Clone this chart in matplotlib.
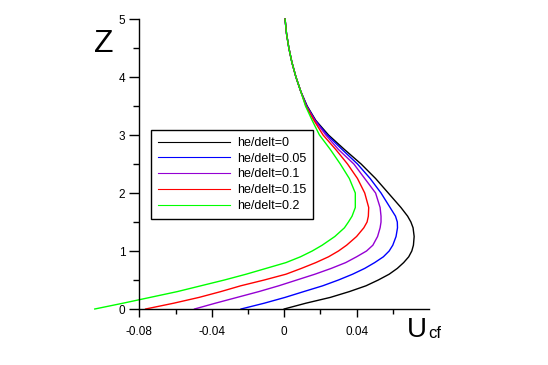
import matplotlib
matplotlib.use("Agg")
import matplotlib.pyplot as plt
from matplotlib.ticker import FixedLocator, FixedFormatter

plt.rcParams['font.family'] = ['Liberation Sans', 'DejaVu Sans']

# ---- data ----
labels = ["he/delt=0", "he/delt=0.05", "he/delt=0.1", "he/delt=0.15", "he/delt=0.2"]
colors = ["#000000", "#0000ff", "#9400d3", "#ff0000", "#00ff00"]

z_lower = [0.0, 0.1, 0.2, 0.3, 0.4, 0.5, 0.6, 0.7, 0.8, 0.9, 1.0, 1.1, 1.25,
           1.4, 1.5, 1.6, 1.75, 2.0, 2.25, 2.5, 2.75, 3.0, 3.25, 3.5]
z_upper = [3.75, 4.0, 4.25, 4.5, 4.75, 5.0]
u_upper = [0.0092, 0.0065, 0.0043, 0.0026, 0.0013, 0.0005]

u_h000 = [0.0, 0.012, 0.0255, 0.036, 0.0452, 0.052, 0.058, 0.0625, 0.066, 0.0688,
          0.0705, 0.0714, 0.0718, 0.0712, 0.0700, 0.0682, 0.0645, 0.0575, 0.0505,
          0.0425, 0.0333, 0.0245, 0.0175, 0.0127]
u_h005 = [-0.0238, -0.011, 0.0005, 0.0108, 0.0213, 0.030, 0.0378, 0.0445, 0.050,
          0.0548, 0.058, 0.060, 0.0618, 0.0626, 0.0625, 0.0615, 0.0585, 0.0535,
          0.0475, 0.0405, 0.032, 0.0238, 0.0172, 0.0125]
u_h010 = [-0.0495, -0.038, -0.026, -0.014, -0.003, 0.007, 0.017, 0.026, 0.034,
          0.040, 0.0455, 0.049, 0.0516, 0.0530, 0.0535, 0.0535, 0.053, 0.0505,
          0.0445, 0.0385, 0.030, 0.023, 0.017, 0.0123]
u_h015 = [-0.0765, -0.061, -0.047, -0.035, -0.024, -0.011, 0.001, 0.0095, 0.0175,
          0.0245, 0.030, 0.0345, 0.040, 0.0440, 0.0458, 0.0465, 0.0467, 0.0445,
          0.0405, 0.035, 0.0285, 0.0215, 0.0165, 0.012]
u_h020 = [-0.1046, -0.089, -0.074, -0.059, -0.046, -0.033, -0.021, -0.010, 0.001,
          0.009, 0.0155, 0.021, 0.028, 0.0333, 0.0355, 0.0375, 0.0393, 0.0393,
          0.036, 0.031, 0.0255, 0.0195, 0.0155, 0.0118]

series = [u_h000, u_h005, u_h010, u_h015, u_h020]

x_major = [-0.08, -0.04, 0.0, 0.04]
x_major_labels = ["-0.08", "-0.04", "0", "0.04"]
x_minor = [-0.06, -0.02, 0.02, 0.06]
y_major = [0, 1, 2, 3, 4, 5]
y_minor = [0.5, 1.5, 2.5, 3.5, 4.5]

# ---- figure ----
W, H = 548, 365
fig = plt.figure(figsize=(W / 100, H / 100), dpi=100)
ax = fig.add_axes([139.3 / W, 1 - 309 / H, (429 - 139.3) / W, (309 - 19) / H])

for u, c, lab in zip(series, colors, labels):
    ax.plot(u + u_upper, z_lower + z_upper, color=c, lw=1.0, label=lab,
            clip_on=False)

ax.set_xlim(-0.08, 0.08)
ax.set_ylim(0, 5)
for s in ['top', 'right']:
    ax.spines[s].set_visible(False)
for s in ['left', 'bottom']:
    ax.spines[s].set_linewidth(1.0)

ax.xaxis.set_major_locator(FixedLocator(x_major))
ax.xaxis.set_major_formatter(FixedFormatter(x_major_labels))
ax.xaxis.set_minor_locator(FixedLocator(x_minor))
ax.yaxis.set_major_locator(FixedLocator(y_major))
ax.yaxis.set_minor_locator(FixedLocator(y_minor))
ax.tick_params(axis='x', which='major', direction='out', length=6, width=1.0,
               labelsize=8.5, pad=6)
ax.tick_params(axis='x', which='minor', direction='out', length=3.5, width=1.0)
ax.tick_params(axis='y', which='major', direction='out', length=7, width=1.0,
               labelsize=8.5, pad=3)
ax.tick_params(axis='y', which='minor', direction='out', length=4, width=1.0)

fig.text(104 / W, 1 - 44 / H, "Z", fontsize=23, ha='center', va='center')
fig.text(427 / W, 1 - 337 / H, "U", fontsize=20, ha='right', va='baseline')
fig.text(428 / W, 1 - 338 / H, "cf", fontsize=12, ha='left', va='baseline')

leg = ax.legend(loc='upper left', bbox_to_anchor=(150.7 / W, 1 - 130 / H),
                bbox_transform=fig.transFigure, borderaxespad=0, frameon=True,
                fancybox=False, edgecolor='black', framealpha=1, fontsize=9,
                handlelength=5.8, handletextpad=0.55, borderpad=0.55,
                labelspacing=0.3)
leg.get_frame().set_linewidth(1.0)
for line in leg.get_lines():
    line.set_linewidth(0.8)

fig.savefig("out.png", dpi=100)
